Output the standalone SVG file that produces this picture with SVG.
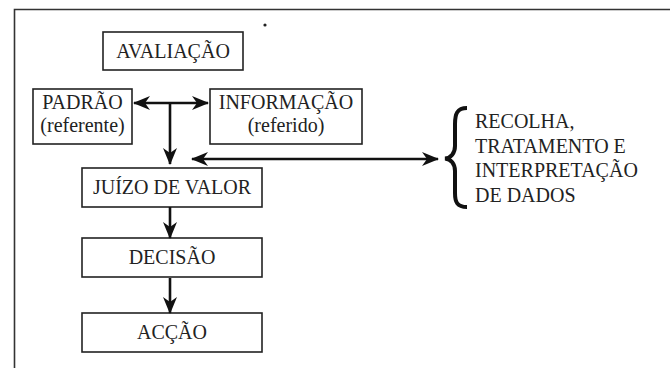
<svg xmlns="http://www.w3.org/2000/svg" width="670" height="368" viewBox="0 0 670 368">
<style>
.box{fill:#fff;stroke:#222;stroke-width:1.6}
text{font-family:'Liberation Serif','DejaVu Serif',serif;font-size:20px;fill:#222}
.t{text-anchor:middle}
.ln{stroke:#111;stroke-width:2.6;fill:none}
.frame{stroke:#333;stroke-width:1.6;fill:none}
</style>
<defs>
<marker id="ah" viewBox="0 0 17 14" refX="16" refY="7" markerWidth="17" markerHeight="14" markerUnits="userSpaceOnUse" orient="auto-start-reverse">
<path d="M0,0 L17,7 L0,14 L5,7 Z" fill="#111"/>
</marker>
</defs>
<path class="frame" d="M14.5,368 L14.5,9.5 L670,9.5"/>
<circle cx="265" cy="25" r="1.6" fill="#222"/>
<g id="avaliacao"><rect class="box" x="103" y="32" width="140" height="38"/><text class="t" x="173" y="58">AVALIAÇÃO</text></g>
<g id="padrao"><rect class="box" x="33" y="89" width="99" height="55"/><text class="t" x="82.5" y="109">PADRÃO</text><text class="t" x="82.5" y="132">(referente)</text></g>
<g id="informacao"><rect class="box" x="210" y="89" width="152" height="55"/><text class="t" x="286" y="109">INFORMAÇÃO</text><text class="t" x="286" y="132">(referido)</text></g>
<g id="juizo"><rect class="box" x="82" y="168" width="180" height="39"/><text class="t" x="172" y="194">JUÍZO DE VALOR</text></g>
<g id="decisao"><rect class="box" x="82" y="238" width="180" height="39"/><text class="t" x="172" y="264">DECISÃO</text></g>
<g id="accao"><rect class="box" x="82" y="313" width="180" height="39"/><text class="t" x="172" y="339">ACÇÃO</text></g>
<g id="dados">
<path d="M467,108 C457,108 455,114 455,124 L455,146 C455,153 451,158 445,158.5 C451,159 455,164 455,171 L455,193 C455,202 457,207 467,207" fill="none" stroke="#111" stroke-width="4"/>
<text x="475" y="128">RECOLHA,</text>
<text x="475" y="153">TRATAMENTO E</text>
<text x="475" y="177">INTERPRETAÇÃO</text>
<text x="475" y="202">DE DADOS</text>
</g>
<g id="connectors">
<line class="ln" x1="134" y1="103" x2="208" y2="103" marker-start="url(#ah)" marker-end="url(#ah)"/>
<line class="ln" x1="170" y1="103" x2="170" y2="164" marker-end="url(#ah)"/>
<line class="ln" x1="192" y1="159" x2="438" y2="159" marker-start="url(#ah)" marker-end="url(#ah)"/>
<line class="ln" x1="170" y1="207" x2="170" y2="238" marker-end="url(#ah)"/>
<line class="ln" x1="170" y1="278" x2="170" y2="313" marker-end="url(#ah)"/>
</g>
</svg>
